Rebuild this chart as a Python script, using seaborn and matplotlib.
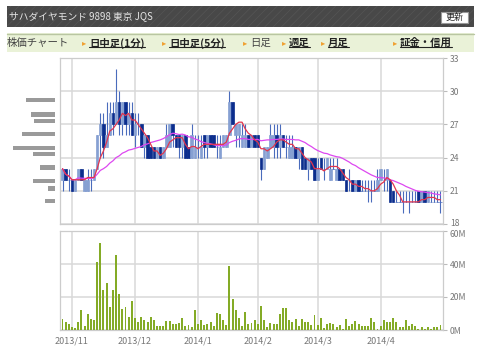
import numpy as np
import pandas as pd
import matplotlib
matplotlib.use("Agg")
import matplotlib.pyplot as plt
import matplotlib.transforms as mtransforms
from matplotlib.patches import Rectangle
from matplotlib.lines import Line2D
import seaborn as sns

# header / navigation text
title = "サハダイヤモンド 9898 東京 JQS"
button_label = "更新"
nav_labels = ["株価チャート", "日中足(1分)", "日中足(5分)", "日足", "週足", "月足", "証金・信用"]
nav_links = [False, True, True, False, True, True, True]

# month ticks (trading day index of first day in month)
month_start = [3, 23, 43, 62, 81, 101]
month_labels = ["2013/11", "2013/12", "2014/1", "2014/2", "2014/3", "2014/4"]

# daily candles, 2013/10/29 - 2014/4/28 (yen)
open_ = [22, 23, 22, 22, 21, 22, 23, 21, 21, 22, 22, 23, 26, 27, 25, 26, 28, 27, 29, 27,
         29, 27, 28, 26, 27, 27, 25, 26, 25, 25, 24, 25, 24, 25, 25, 27, 26, 26, 25, 26,
         25, 24, 24, 25, 24, 26, 25, 26, 26, 25, 24, 25, 25, 26, 29, 26, 26, 25, 25, 26,
         25, 26, 26, 24, 23, 24, 25, 25, 26, 25, 26, 25, 24, 24, 25, 24, 25, 24, 23, 24,
         24, 22, 24, 23, 23, 22, 23, 22, 23, 23, 22, 22, 22, 21, 22, 21, 21, 21, 21, 21,
         21, 22, 22, 22, 22, 21, 20, 20, 20, 20, 20, 20, 20, 21, 20, 21, 20, 20, 20, 20,
         20]
high = [23, 23, 23, 22, 22, 23, 23, 22, 23, 23, 23, 26, 28, 28, 29, 29, 29, 32, 30, 29,
        29, 29, 29, 28, 28, 27, 26, 26, 25, 25, 25, 25, 25, 27, 27, 27, 26, 26, 26, 26,
        25, 27, 26, 26, 26, 26, 26, 26, 26, 26, 26, 26, 26, 30, 29, 27, 27, 27, 27, 26,
        26, 26, 26, 24, 25, 25, 27, 27, 27, 27, 26, 26, 26, 26, 25, 25, 25, 24, 24, 24,
        24, 24, 24, 24, 24, 24, 24, 24, 23, 23, 22, 23, 22, 22, 22, 22, 22, 22, 22, 22,
        23, 23, 23, 23, 22, 21, 21, 21, 21, 21, 21, 21, 21, 21, 21, 21, 21, 21, 21, 21,
        21]
low = [21, 22, 21, 21, 21, 22, 22, 21, 21, 21, 22, 23, 24, 24, 25, 26, 26, 27, 26, 26,
       26, 26, 26, 25, 26, 25, 24, 24, 24, 24, 24, 24, 24, 25, 25, 25, 25, 24, 24, 24,
       24, 24, 24, 24, 24, 24, 24, 25, 25, 24, 24, 25, 25, 26, 27, 25, 25, 25, 25, 25,
       25, 25, 25, 22, 23, 24, 25, 24, 24, 24, 25, 24, 24, 24, 24, 23, 23, 23, 22, 23,
       22, 22, 23, 22, 23, 22, 23, 22, 22, 22, 21, 21, 21, 21, 21, 21, 21, 20, 20, 21,
       21, 22, 21, 21, 20, 20, 20, 20, 19, 20, 19, 20, 20, 20, 20, 20, 20, 20, 20, 20,
       19]
close = [23, 22, 22, 21, 22, 23, 22, 22, 22, 22, 23, 26, 27, 25, 26, 28, 27, 29, 27, 29,
         27, 28, 26, 27, 27, 25, 26, 24, 24, 24, 25, 24, 25, 26, 27, 26, 25, 25, 26, 24,
         24, 26, 25, 25, 25, 25, 26, 25, 25, 25, 25, 26, 26, 29, 27, 27, 27, 26, 26, 25,
         26, 25, 25, 23, 25, 25, 26, 26, 25, 26, 25, 25, 25, 25, 24, 25, 23, 23, 24, 23,
         22, 23, 23, 23, 24, 23, 23, 23, 22, 22, 21, 22, 21, 22, 21, 21, 21, 21, 21, 21,
         22, 23, 22, 23, 20, 20, 20, 20, 20, 20, 20, 20, 20, 20, 21, 20, 21, 20, 20, 20,
         20]

# daily volume (millions of shares)
volume = [6.4, 5, 3.4, 1.6, 1.2, 5, 12, 2.6, 9.6, 6.4,
          5.8, 41, 53, 24, 28.6, 13.8, 24, 45.4, 22, 12.6,
          13.8, 7.8, 17.8, 7.2, 5, 7.8, 5.8, 4.6, 7.8, 5.8,
          2.2, 2.4, 2.4, 5.4, 5.4, 3.4, 3.6, 4.2, 7.4, 2.6,
          3, 1.8, 12, 3.4, 6.2, 3, 3.6, 5, 2.6, 10.2,
          9.6, 6.2, 3, 38.8, 19, 12.4, 7,
          2.4, 11.2, 3.8, 4.2, 5.8, 3.8, 14.8, 5.8, 2, 4.2,
          3.8, 3.4, 9.4, 13.2, 13.2, 6.2, 4.6, 6.6, 2.2, 6.6,
          4.6, 5, 3, 9, 3, 7, 1.4, 3.8, 4.2, 3.4,
          1.6, 3, 0.8, 6.6, 2.4, 3.4, 5.4, 3.4, 2.6, 2.6,
          2.4, 7, 5, 0.8, 2.4, 5.8, 4.6, 4.6, 7.4, 4.6,
          1.6, 1.8, 6.2, 2.4, 3.8, 2.4, 0.8, 1.6, 0.8, 1.6,
          0.4, 1.6, 1.6, 3]

# volume by price (relative)
profile_price = [29.2, 27.9, 27.3, 26.1, 24.9, 24.3, 23.1, 21.9, 21.2, 20.1]
profile_volume = [29, 24.3, 20.7, 33, 41.7, 22, 15, 21.7, 7, 10.3]

sns.set_style("white")
plt.rcParams["font.family"] = ["Noto Sans CJK JP", "DejaVu Sans"]
plt.rcParams["hatch.linewidth"] = 0.5

W, H = 480, 356
fig = plt.figure(figsize=(W / 100, H / 100), dpi=100)


def fx(px):
    return px / W


def fy(py):
    return 1 - py / H


# header bar
fig.add_artist(Rectangle((fx(7), fy(27)), fx(474) - fx(7), fy(6) - fy(27),
                         transform=fig.transFigure, facecolor="#484848",
                         edgecolor="#555555", hatch="////", lw=0))
fig.text(fx(9), fy(16.5), title, color="#e4e4e4", fontsize=7, va="center")
fig.add_artist(Rectangle((fx(441), fy(23)), fx(27), fy(12) - fy(23),
                         transform=fig.transFigure, facecolor="white",
                         edgecolor="#999999", lw=0.8))
fig.text(fx(454.5), fy(17.5), button_label, fontsize=6.5, ha="center", va="center")

# navigation bar
fig.add_artist(Rectangle((fx(7), fy(52)), fx(474) - fx(7), fy(33) - fy(52),
                         transform=fig.transFigure, facecolor="#eaf2d8", lw=0))
fig.add_artist(Line2D([fx(7), fx(474)], [fy(33.5), fy(33.5)],
                      transform=fig.transFigure, color="#b9c6a2", lw=1))
nav_x = [7, 89, 169, 250, 289, 328, 400]
nav_texts = []
for label, link, x in zip(nav_labels, nav_links, nav_x):
    if x > 10:
        fig.text(fx(x - 7), fy(43), "▸", color="#f0a030", fontsize=6, va="center",
                 family=["DejaVu Sans"])
    t = fig.text(fx(x), fy(43), label, fontsize=7.5, va="center",
                 color="#222222" if link else "#444444",
                 fontweight="bold" if link else "normal")
    nav_texts.append((t, link))

# price panel
ax_p = fig.add_axes([fx(60), fy(224), fx(443) - fx(60), fy(58) - fy(224)])
ax_v = fig.add_axes([fx(60), fy(330), fx(443) - fx(60), fy(231) - fy(330)])
ax_prof = fig.add_axes([0, fy(224), fx(55), fy(58) - fy(224)])

idx = np.arange(len(close))
o = np.array(open_)
c = np.array(close)
light, dark, wick = "#86a0d2", "#0b2d8d", "#4a6cbc"
colors = np.where(c > o, light, np.where(c < o, dark, wick))

ax_p.vlines(idx, low, high, color=wick, lw=0.8, zorder=2)
ax_p.bar(idx, c - o, bottom=o, width=0.8, color=colors, edgecolor=colors,
         linewidth=0.5, zorder=3)

df = pd.DataFrame({"day": idx, "close": close})
df["ma5"] = df["close"].rolling(5, min_periods=1).mean()
df["ma25"] = df["close"].rolling(25, min_periods=1).mean()
sns.lineplot(data=df, x="day", y="ma25", color="#dd48f0", lw=0.9, ax=ax_p, zorder=4)
sns.lineplot(data=df, x="day", y="ma5", color="#e2354e", lw=0.9, ax=ax_p, zorder=5)

# volume panel
vol_col = "#84ab26"
sns.barplot(x=idx, y=volume, native_scale=True, color=vol_col, saturation=1,
            width=0.62, errorbar=None, edgecolor="none", linewidth=0,
            ax=ax_v, zorder=3)

grid_col = "#d9d9d9"
for ax in (ax_p, ax_v):
    ax.set_xlim(-0.8, 120.8)
    ax.set_xticks(month_start)
    ax.grid(True, color=grid_col, lw=1.1)
    ax.set_axisbelow(True)
    ax.set_xlabel("")
    ax.set_ylabel("")
    ax.yaxis.tick_right()
    ax.tick_params(axis="y", which="both", length=3, color="#bbbbbb",
                   labelsize=6.2, labelcolor="#777777", pad=2)
    for s in ax.spines.values():
        s.set_color("#cccccc")
        s.set_linewidth(0.9)

ax_p.set_ylim(18, 33)
ax_p.set_yticks([18, 21, 24, 27, 30, 33])
ax_p.tick_params(axis="x", length=0, labelbottom=False)

ax_v.set_ylim(0, 60)
ax_v.set_yticks([0, 20, 40, 60])
ax_v.set_yticklabels(["0M", "20M", "40M", "60M"])
ax_v.set_xticklabels(month_labels)
ax_v.tick_params(axis="x", length=2, color=grid_col, labelsize=6.5,
                 labelcolor="#777777", pad=3)

# nudge the top volume label and bottom price label apart a little
shift_dn = mtransforms.ScaledTranslation(0, -1.5 / 72, fig.dpi_scale_trans)
shift_up = mtransforms.ScaledTranslation(0, 1.0 / 72, fig.dpi_scale_trans)
ax_v.get_yticklabels()[-1].set_transform(ax_v.get_yticklabels()[-1].get_transform() + shift_dn)
ax_p.get_yticklabels()[0].set_transform(ax_p.get_yticklabels()[0].get_transform() + shift_up)

# volume by price on the left
ax_prof.barh(profile_price, profile_volume, height=0.38, color="#9a9a9a",
             edgecolor="none")
ax_prof.set_ylim(18, 33)
ax_prof.set_xlim(55, 0)
ax_prof.axis("off")

# underline the link items
fig.canvas.draw()
for t, link in nav_texts:
    if link:
        bb = t.get_window_extent()
        y = (bb.y0 + 1.5) / H
        fig.add_artist(Line2D([bb.x0 / W, bb.x1 / W], [y, y], transform=fig.transFigure,
                              color="#222222", lw=0.8))

fig.savefig("out.png", dpi=100)
